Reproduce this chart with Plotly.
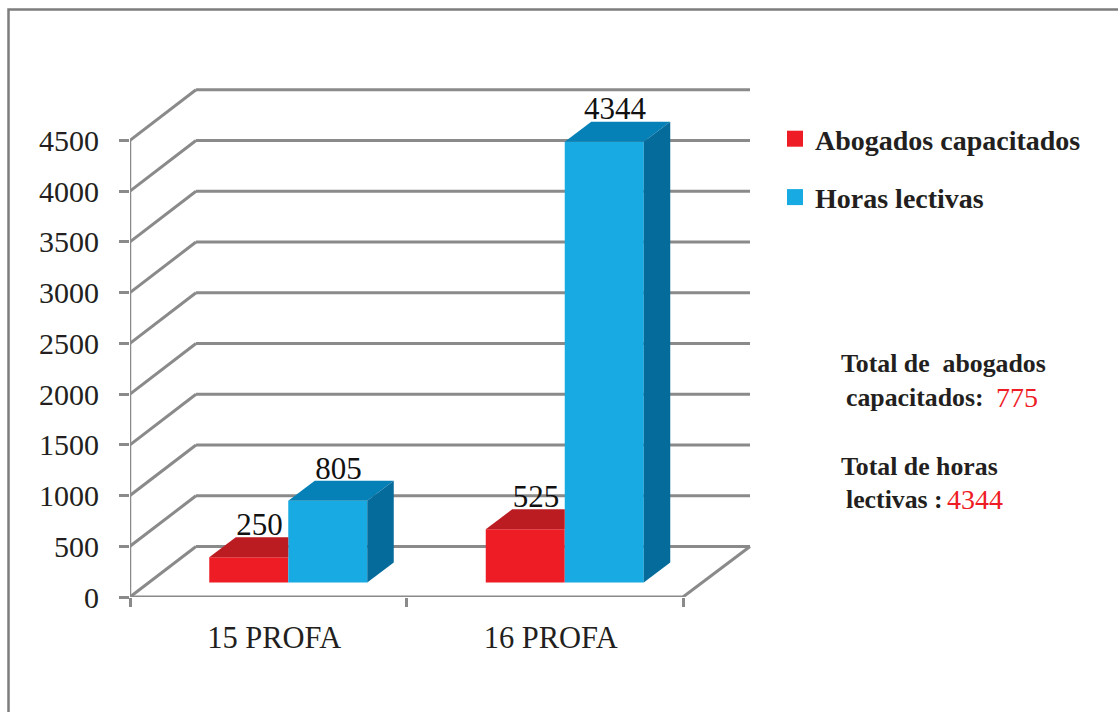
import plotly.graph_objects as go

# ---- data ----
categories = ["15 PROFA", "16 PROFA"]
abogados = [250, 525]
horas = [805, 4344]
y_ticks = [0, 500, 1000, 1500, 2000, 2500, 3000, 3500, 4000, 4500]
series_names = ["Abogados capacitados", "Horas lectivas"]
total_abogados = "775"
total_horas = "4344"

# ---- style ----
W, H = 1118, 712
L, R, T, B = 130, 755, 85, 597     # plot box in page pixels
PX_X = 276.5                       # pixels per category
PX_Y = 456.7 / 4500                # pixels per value unit
RED, RED_TOP = "#ee1c25", "#bb1c22"
BLUE, BLUE_TOP, BLUE_SIDE = "#17aae3", "#0681b7", "#056b9b"
GRID = "#8a8a8a"
INK = "#231f20"
SERIF = "Liberation Serif"

# wall depth, bar depth and bar geometry, in axis units
wall_dx, wall_dy = 66 / PX_X, 50.5 / PX_Y
bar_dx, bar_dy = 26.5 / PX_X, 20 / PX_Y
bar_w = 79 / PX_X
bar_shift = 20 / PX_X
base = 14.5 / PX_Y
x_min, x_max = -0.5, -0.5 + (R - L) / PX_X
y_max = (B - T) / PX_Y
x_end = len(categories) - 0.5

idx = list(range(len(categories)))
red_x = [i + bar_shift - bar_w / 2 for i in idx]
blue_x = [i + bar_shift + bar_w / 2 for i in idx]

fig = go.Figure()

fig.add_trace(go.Bar(x=red_x, y=abogados, base=base, width=bar_w, marker=dict(color=RED, line_width=0),
                     name=series_names[0], showlegend=False, hoverinfo="skip"))
fig.add_trace(go.Bar(x=blue_x, y=horas, base=base, width=bar_w, marker=dict(color=BLUE, line_width=0),
                     name=series_names[1], showlegend=False, hoverinfo="skip"))


def poly(xs, ys, color):
    fig.add_trace(go.Scatter(x=xs + xs[:1], y=ys + ys[:1], mode="lines", fill="toself", fillcolor=color,
                             line=dict(width=0, color=color), showlegend=False, hoverinfo="skip"))


for i in idx:
    # red top, cut where the blue front face hides it
    x0, x1, t = red_x[i] - bar_w / 2, red_x[i] + bar_w / 2, abogados[i] + base
    poly([x0, x1, x1, x0 + bar_dx], [t, t, t + bar_dy, t + bar_dy], RED_TOP)
    # blue top and side
    x0, x1, t = blue_x[i] - bar_w / 2, blue_x[i] + bar_w / 2, horas[i] + base
    poly([x0, x1, x1 + bar_dx, x0 + bar_dx], [t, t, t + bar_dy, t + bar_dy], BLUE_TOP)
    poly([x1, x1 + bar_dx, x1 + bar_dx, x1], [t, t + bar_dy, base + bar_dy, base], BLUE_SIDE)

# value labels
label_drop = 5.5 / PX_Y
label_x = [x + bar_dx / 2 - 2.5 / PX_X for x in red_x] + [x + bar_dx / 2 - 2.5 / PX_X for x in blue_x]
label_y = [v + base + bar_dy - label_drop for v in abogados] + [v + base + bar_dy - label_drop for v in horas]
label_t = [str(v) for v in abogados] + [str(v) for v in horas]
fig.add_trace(go.Scatter(x=label_x, y=label_y, text=label_t, mode="text", textposition="top center",
                         textfont=dict(family=SERIF, size=31, color="#111111"), showlegend=False,
                         hoverinfo="skip", cliponaxis=False))

# legend entries
for i, (name, color) in enumerate(zip(series_names, [RED, BLUE])):
    fig.add_trace(go.Scatter(x=[None], y=[None], mode="markers", name=name, legendgroup=name,
                             marker=dict(symbol="square", size=16, color=color, line_width=0)))

# walls and floor
shapes = []


def seg(x0, y0, x1, y1, width=3):
    shapes.append(dict(type="line", xref="x", yref="y", x0=x0, y0=y0, x1=x1, y1=y1, layer="below",
                       line=dict(color=GRID, width=width)))


for v in y_ticks:
    seg(x_min, v, x_min + wall_dx, v + wall_dy)
    seg(x_min + wall_dx, v + wall_dy, x_min + (750 - L) / PX_X, v + wall_dy)
seg(x_min, 0, x_end, 0)
seg(x_end, 0, x_min + (750 - L) / PX_X, wall_dy)
seg(x_min, 0, x_min, y_ticks[-1], 2.5)

# outer frame, running off the page to the right and the bottom
fx = lambda p: (p - L) / (R - L)
fy = lambda p: (B - p) / (B - T)
shapes.append(dict(type="path", xref="paper", yref="paper",
                   path=f"M {fx(8.5)} {fy(H + 5)} L {fx(8.5)} {fy(9.5)} L {fx(W + 5)} {fy(9.5)}",
                   line=dict(color="#7d7d7d", width=2.5)))


def note(px, py, text, color=INK, bold=True, size=25.8):
    return dict(xref="paper", yref="paper", x=fx(px - 2), y=fy(py), xanchor="left", yanchor="middle",
                showarrow=False, text=f"<b>{text}</b>" if bold else text,
                font=dict(family=SERIF, size=size, color=color))


annotations = [
    note(841, 363, "Total de\u00a0\u00a0abogados"),
    note(846, 397, "capacitados:"),
    note(996, 397, total_abogados, "#ee1c25", False, 28),
    note(841, 466, "Total de horas"),
    note(846, 499, "lectivas :"),
    note(947, 499, total_horas, "#ee1c25", False, 28),
]

fig.update_layout(
    width=W, height=H, autosize=False,
    margin=dict(l=L, r=W - R, t=T, b=H - B, pad=0, autoexpand=False),
    paper_bgcolor="white", plot_bgcolor="white",
    barmode="overlay", hovermode=False,
    shapes=shapes, annotations=annotations,
    legend=dict(x=fx(775), y=fy(114), xanchor="left", yanchor="top", bgcolor="rgba(0,0,0,0)",
                font=dict(family=SERIF, size=28, color=INK, weight="bold"), tracegroupgap=19, itemsizing="trace",
                itemclick=False, itemdoubleclick=False, itemwidth=30),
    xaxis=dict(range=[x_min, x_max], tickvals=[i + 6 / PX_X for i in idx], ticktext=categories, ticks="",
               showgrid=False, zeroline=False, showline=False,
               tickfont=dict(family=SERIF, size=30.5, color=INK), ticklabelstandoff=19,
               minor=dict(tickmode="array", tickvals=[-0.5, 0.5, 1.5], ticks="outside", ticklen=9, tickwidth=3,
                          tickcolor=GRID, showgrid=False)),
    yaxis=dict(range=[0, y_max], tickvals=y_ticks, ticks="outside", ticklen=10, tickwidth=3, tickcolor=GRID,
               showgrid=False, zeroline=False, showline=False,
               tickfont=dict(family=SERIF, size=30, color=INK), ticklabelstandoff=14),
    font=dict(family=SERIF),
)

fig.write_html("out.html", post_script="document.body.style.margin='0'", config=dict(displayModeBar=False))
